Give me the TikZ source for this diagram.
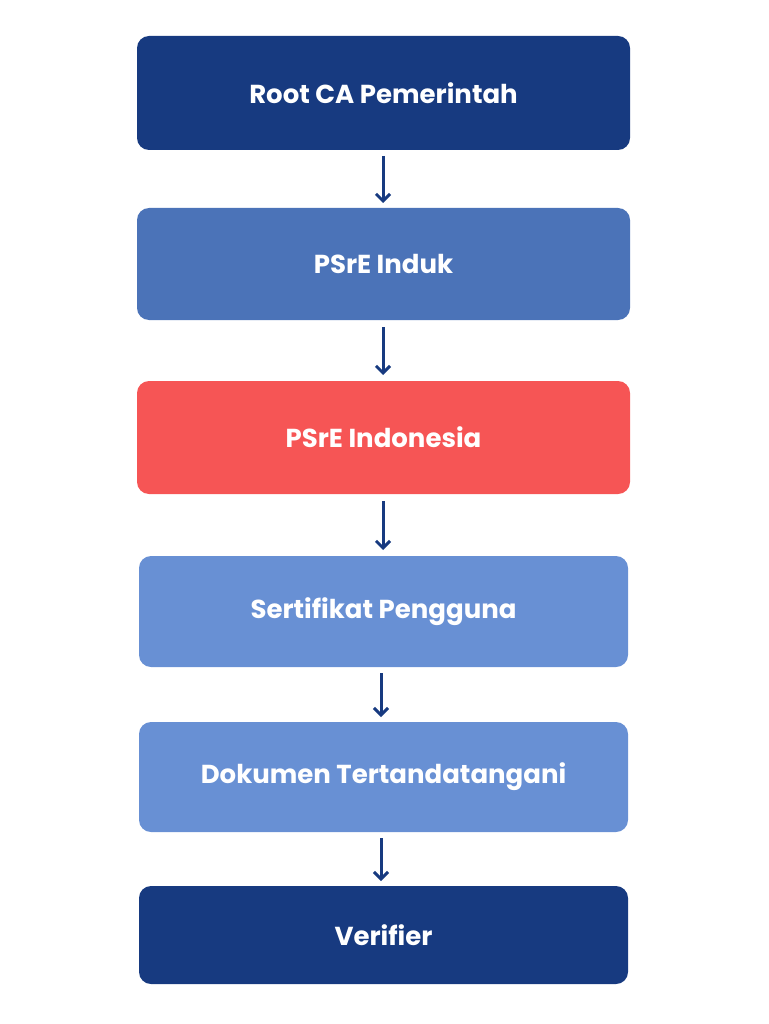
\documentclass[tikz,border=0pt]{standalone}
\usepackage{fontspec}
\setmainfont{Poppins}
\definecolor{dark}{HTML}{173A80}
\definecolor{mid}{HTML}{4B73B8}
\definecolor{redb}{HTML}{F65555}
\definecolor{light}{HTML}{6890D4}
\begin{document}
\begin{tikzpicture}[x=1pt,y=-1pt,
  box/.style={rounded corners=10pt,draw=none,text=white,font=\fontsize{26}{30}\selectfont\bfseries},
  arr/.style={draw=dark,line width=3pt,-{Straight Barb[length=7pt,width=14pt]}}]
\usetikzlibrary{arrows.meta}
\useasboundingbox (0,0) rectangle (768,1024);
\def\bx#1#2#3#4#5#6#7{\fill[#6,rounded corners=12pt] (#2,#3) rectangle (#4,#5);
  \node[box] (#1) at ({(#2+#4)/2},{(#3+#5)/2}) {#7};
  \path (#2,#3) rectangle (#4,#5);}
\bx{a}{137}{36}{630}{150}{dark}{Root CA Pemerintah}
\bx{b}{137}{208}{630}{320}{mid}{PSrE Induk}
\bx{c}{137}{381}{630}{494}{redb}{PSrE Indonesia}
\bx{d}{139}{556}{628}{667}{light}{Sertifikat Pengguna}
\bx{e}{139}{722}{628}{832}{light}{Dokumen Tertandatangani}
\bx{f}{139}{886}{628}{984}{dark}{Verifier}
\coordinate (a1) at (383,156); \coordinate (a2) at (383,203);
\coordinate (b1) at (383,327); \coordinate (b2) at (383,375);
\coordinate (c1) at (383,501); \coordinate (c2) at (383,550);
\coordinate (d1) at (381,673); \coordinate (d2) at (381,717);
\coordinate (e1) at (381,838); \coordinate (e2) at (381,881);
\draw[arr] (a1) -- (a2);
\draw[arr] (b1) -- (b2);
\draw[arr] (c1) -- (c2);
\draw[arr] (d1) -- (d2);
\draw[arr] (e1) -- (e2);
\end{tikzpicture}
\end{document}
